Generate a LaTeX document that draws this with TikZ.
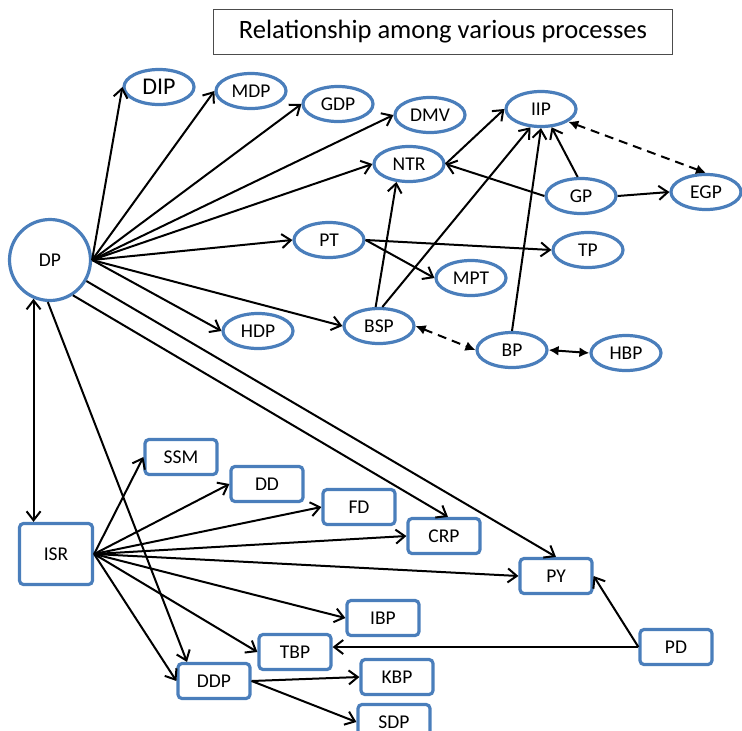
\documentclass[tikz,border=0pt]{standalone}
\usepackage{fontspec}
\setmainfont{Carlito}
\usepackage{xcolor}
\usetikzlibrary{arrows.meta,shapes.geometric}
\definecolor{procblue}{HTML}{4A7EBB}

\begin{document}
\begin{tikzpicture}[x=1pt,y=-1pt,
		proc/.style={draw=procblue, line width=3.2pt, ellipse, minimum width=70pt, minimum height=35pt, inner sep=0pt, font=\fontsize{19.5}{21}\selectfont},
		task/.style={draw=procblue, line width=3.2pt, rounded corners=4pt, minimum width=72pt, minimum height=35pt, inner sep=0pt, font=\fontsize{19.5}{21}\selectfont},
		link/.style={line width=2pt, -{Straight Barb[length=9pt,width=14pt,line width=2pt]}},
		twin/.style={line width=2pt, {Straight Barb[length=9pt,width=14pt,line width=2pt]}-{Straight Barb[length=9pt,width=14pt,line width=2pt]}},
		weak/.style={line width=2pt, dash pattern=on 9pt off 6pt, {Latex[length=10pt,width=10pt]}-{Latex[length=10pt,width=10pt]}},
		strong/.style={line width=2pt, {Latex[length=10pt,width=10pt]}-{Latex[length=10pt,width=10pt]}}]
	\useasboundingbox (0,0) rectangle (742,731);

	\node[draw=black!70, line width=1.2pt, minimum width=459pt, minimum height=45pt, font=\fontsize{26.5}{28}\selectfont] (title) at (443,32) {Relationship among various processes};

	\node[draw=procblue, line width=3.2pt, circle, minimum size=81pt, inner sep=0pt, font=\fontsize{19.5}{21}\selectfont] (DP) at (50,260) {DP};

	\node[proc, font=\fontsize{24}{26}\selectfont] (DIP) at (159,87) {DIP};
	\node[proc] (MDP) at (251,91) {MDP};
	\node[proc] (GDP) at (338,104) {GDP};
	\node[proc] (DMV) at (430,115) {DMV};
	\node[proc] (IIP) at (541,109) {IIP};
	\node[proc] (NTR) at (409,164) {NTR};
	\node[proc] (GP) at (581,196) {GP};
	\node[proc] (EGP) at (706,192) {EGP};
	\node[proc] (PT) at (329,240) {PT};
	\node[proc] (TP) at (588,250) {TP};
	\node[proc] (MPT) at (471,278) {MPT};
	\node[proc] (HDP) at (258,331) {HDP};
	\node[proc] (BSP) at (379,326) {BSP};
	\node[proc] (BP) at (512,350) {BP};
	\node[proc] (HBP) at (626,353) {HBP};

	\node[task, minimum width=73pt, minimum height=61pt] (ISR) at (56,554) {ISR};
	\node[task] (SSM) at (181,457) {SSM};
	\node[task] (DD) at (267,484) {DD};
	\node[task] (FD) at (359,507) {FD};
	\node[task] (CRP) at (444,536) {CRP};
	\node[task] (PY) at (556,576) {PY};
	\node[task] (IBP) at (383,618) {IBP};
	\node[task] (TBP) at (295,652) {TBP};
	\node[task] (PD) at (676,647) {PD};
	\node[task] (DDP) at (214,681) {DDP};
	\node[task] (KBP) at (397,677) {KBP};
	\node[task] (SDP) at (394,722) {SDP};

	\foreach \dst in {DIP,MDP,GDP,DMV,NTR,PT,HDP,BSP}
		\draw[link] (DP.east) -- (\dst.west);
	\draw[link] (DP.-30) -- (PY.north);
	\draw[link] (DP.-57) -- ([xshift=4pt]CRP.north);
	\draw[link] (DP.-93) -- ([xshift=-27pt]DDP.north);
	\draw[twin] (DP.-113) -- (ISR.north -| DP.-113);

	\draw[link] (PT.east) -- (TP.west);
	\draw[link] (PT.east) -- (MPT.west);
	\draw[link] (BSP.100) -- (NTR.235);
	\draw[link] (BSP.80) -- (IIP.240);
	\draw[link] (BP.north) -- (IIP.south);
	\draw[link] (GP.100) -- (IIP.-60);
	\draw[link] (GP.west) -- (NTR.east);
	\draw[link] (GP.east) -- (EGP.west);
	\draw[link] (NTR.east) -- (IIP.west);
	\draw[weak] (IIP.-25) -- (EGP.north);
	\draw[weak] (BSP.east) -- (BP.west);
	\draw[strong] (BP.east) -- (HBP.west);

	\foreach \dst in {SSM,DD,FD,CRP,PY,IBP,TBP,DDP}
		\draw[link] (ISR.east) -- (\dst.west);
	\draw[link] (DDP.east) -- (KBP.west);
	\draw[link] (DDP.east) -- (SDP.west);
	\draw[link] (PD.west) -- (TBP.east |- PD.west);
	\draw[link] (PD.west) -- (PY.east);
\end{tikzpicture}
\end{document}
